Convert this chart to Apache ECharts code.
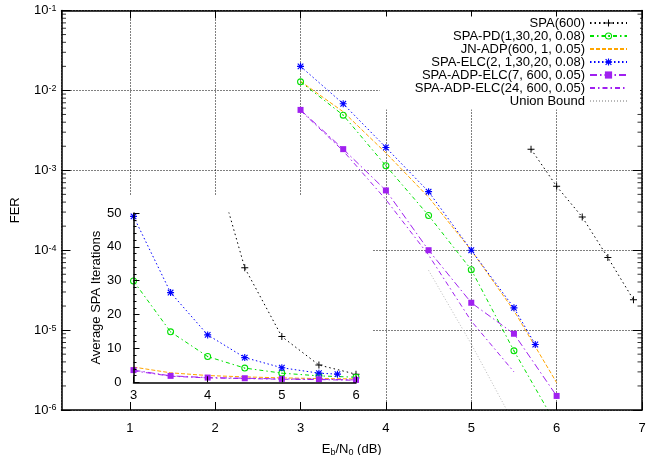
<!DOCTYPE html>
<html lang="en">
<head>
<meta charset="UTF-8">
<title>FER vs Eb/N0</title>
<style>
  html, body { margin: 0; padding: 0; background: #fff; }
  #chart { width: 649px; height: 455px; }
</style>
</head>
<body>
<div id="chart"></div>
<script src="https://cdn.jsdelivr.net/npm/echarts@6/dist/echarts.min.js"></script>
<script>
// ---- FER (main plot) ----
var spaX = [5.7, 6.0, 6.3, 6.6, 6.9];
var spaFer = [1.84e-3, 6.3e-4, 2.6e-4, 8.1e-5, 2.4e-5];
var pdX = [3, 3.5, 4, 4.5, 5, 5.5, 6];
var pdFer = [1.28e-2, 4.9e-3, 1.14e-3, 2.72e-4, 5.7e-5, 5.5e-6, 6.4e-7];
var jnX = [3, 3.5, 4, 4.5, 5, 5.5, 6];
var jnFer = [1.3e-2, 5.4e-3, 1.65e-3, 4.6e-4, 1.0e-4, 1.75e-5, 2.2e-6];
var elcX = [3, 3.5, 4, 4.5, 5, 5.5, 5.75];
var elcFer = [2.0e-2, 6.8e-3, 1.93e-3, 5.4e-4, 1.0e-4, 1.9e-5, 6.6e-6];
var adp7X = [3, 3.5, 4, 4.5, 5, 5.5, 6];
var adp7Fer = [5.7e-3, 1.84e-3, 5.6e-4, 1.0e-4, 2.2e-5, 9.0e-6, 1.5e-6];
var adp24X = [3, 3.5, 4, 4.5, 5, 5.5];
var adp24Fer = [5.6e-3, 1.75e-3, 4.3e-4, 8.7e-5, 1.3e-5, 3.0e-6];
var unionX = [4.5, 5, 5.5];
var unionFer = [5.6e-5, 6.7e-6, 6.8e-7];

// ---- average SPA iterations (inset) ----
var spaItX = [4, 4.5, 5, 5.5, 6];
var spaIt = [72, 33.8, 13.5, 5.1, 2.4];
var itX = [3, 3.5, 4, 4.5, 5, 5.5, 6];
var pdIt = [29.9, 14.9, 7.6, 4.2, 2.7, 1.9, 1.5];
var jnIt = [4.5, 2.8, 2.0, 1.6, 1.3, 1.1, 1.0];
var elcItX = [3, 3.5, 4, 4.5, 5, 5.5, 5.75];
var elcIt = [49, 26.5, 14.0, 7.3, 4.3, 2.7, 2.4];
var adp7It = [3.6, 1.9, 1.4, 1.2, 1.0, 0.9, 0.7];
var adp24It = [3.4, 1.8, 1.3, 1.1, 0.9, 0.8, 0.6];

// log-axis minor ticks (2..9 in each decade)
var minorMantissa = [2, 3, 4, 5, 6, 7, 8, 9];
var decades = [1e-6, 1e-5, 1e-4, 1e-3, 1e-2];
var minorTicks = [];
decades.forEach(function (d) {
  minorMantissa.forEach(function (m) { minorTicks.push(m * d); });
});

var names = ['SPA(600)', 'SPA-PD(1,30,20, 0.08)', 'JN-ADP(600, 1, 0.05)',
  'SPA-ELC(2, 1,30,20, 0.08)', 'SPA-ADP-ELC(7, 600, 0.05)',
  'SPA-ADP-ELC(24, 600, 0.05)', 'Union Bound'];

var plus = 'path://M4.3 0H5.7V4.3H10V5.7H5.7V10H4.3V5.7H0V4.3H4.3Z';
var star = 'path://M4.2 0H5.8V10H4.2Z M0 4.2H10V5.8H0Z M0.43 1.57L1.57 0.43L9.57 8.43L8.43 9.57Z M8.43 0.43L9.57 1.57L1.57 9.57L0.43 8.43Z';
var dotCircle = 'path://M0 5A5 5 0 1 1 10 5A5 5 0 1 1 0 5Z M1.5 5A3.5 3.5 0 1 0 8.5 5A3.5 3.5 0 1 0 1.5 5Z M4 5A1 1 0 1 1 6 5A1 1 0 1 1 4 5Z';

var styles = [
  { color: '#000000', dash: [1.5, 3], symbol: plus, size: 7 },
  { color: '#00e000', dash: [4, 3, 1.5, 3], symbol: dotCircle, size: 7 },
  { color: '#ffa500', dash: [4, 2], symbol: 'none', size: 0 },
  { color: '#0000ff', dash: [1.5, 2.5], symbol: star, size: 7 },
  { color: '#a020f0', dash: [7, 3, 1.5, 3], symbol: 'rect', size: 6 },
  { color: '#a020f0', dash: [5, 3, 1.5, 3], symbol: 'none', size: 0 },
  { color: '#b8b8b8', dash: [1, 2], symbol: 'none', size: 0 }
];

function pairs(xs, ys) {
  return xs.map(function (x, i) { return [x, ys[i]]; });
}

function makeSeries(idx, data, inset) {
  var s = styles[idx];
  var noMark = s.symbol === 'none';
  return {
    name: names[idx],
    type: 'line',
    xAxisIndex: inset ? 2 : 0,
    yAxisIndex: inset ? 2 : 0,
    data: data,
    symbol: noMark ? 'circle' : s.symbol,
    symbolSize: s.size,
    showSymbol: !noMark,
    clip: true,
    z: 2,
    lineStyle: { color: s.color, width: 1, type: s.dash },
    itemStyle: { color: noMark ? 'rgba(0,0,0,0)' : s.color },
    emphasis: { disabled: true }
  };
}

function minorTickSeries(xEdge, offset) {
  return {
    type: 'scatter',
    xAxisIndex: 0,
    yAxisIndex: 0,
    z: 3,
    silent: true,
    clip: false,
    symbol: 'rect',
    symbolSize: [4.5, 1],
    symbolOffset: [offset, 0],
    itemStyle: { color: '#000' },
    data: minorTicks.map(function (v) { return [xEdge, v]; })
  };
}

var font = 'Liberation Sans, Arial, Helvetica, sans-serif';
var axisLine = { show: true, lineStyle: { color: '#000', width: 1.5 } };

var legendData = names.map(function (n, i) {
  if (styles[i].symbol === 'none') {
    return { name: n, itemStyle: { opacity: 0 } };
  }
  return { name: n };
});

var option = {
  animation: false,
  backgroundColor: '#fff',
  textStyle: { fontFamily: font, color: '#000' },
  grid: [
    { left: 61.5, right: 7, top: 10.5, bottom: 45, outerBoundsMode: 'none', containLabel: false },
    { left: 133.5, right: 293, top: 213, bottom: 72.7, outerBoundsMode: 'none', containLabel: false }
  ],
  legend: {
    orient: 'vertical',
    align: 'right',
    right: 9,
    top: 16.5,
    padding: [0, 12, 2, 35],
    backgroundColor: '#fff',
    itemWidth: 37,
    itemHeight: 9,
    itemGap: 0,
    data: legendData,
    selectedMode: false,
    textStyle: { fontSize: 13, lineHeight: 13, color: '#000', fontFamily: font }
  },
  graphic: [{
    type: 'rect', silent: true, z: 1,
    shape: { x: 62, y: 195, width: 310, height: 214 },
    style: { fill: '#fff' }
  }],
  xAxis: [
    {
      gridIndex: 0, type: 'value', min: 0.2, max: 7, splitNumber: 7,
      minInterval: 1, maxInterval: 1, z: 3,
      axisLine: axisLine,
      axisTick: { inside: true, length: 8, lineStyle: { color: '#000' } },
      axisLabel: { showMinLabel: false, fontSize: 13, margin: 12, color: '#000' },
      splitLine: { show: false },
      name: 'E{sub|b}/N{sub|0} (dB)', nameLocation: 'middle', nameGap: 31,
      nameTextStyle: {
        fontSize: 13, color: '#000', lineHeight: 16,
        rich: { sub: { fontSize: 9, verticalAlign: 'bottom', lineHeight: 9 } }
      }
    },
    {
      gridIndex: 0, type: 'value', position: 'top', min: 0.2, max: 7, splitNumber: 7,
      minInterval: 1, maxInterval: 1, z: 3,
      axisLine: axisLine,
      axisTick: { inside: true, length: 8, lineStyle: { color: '#000' } },
      axisLabel: { show: false },
      splitLine: { show: false }
    },
    {
      gridIndex: 1, type: 'value', min: 3, max: 6, interval: 1, z: 3,
      axisLine: axisLine,
      axisTick: { inside: true, length: 6, lineStyle: { color: '#000' } },
      axisLabel: { fontSize: 13, margin: 7, color: '#000' },
      splitLine: { show: false }
    },
    {
      gridIndex: 0, type: 'value', min: 0.2, max: 7, splitNumber: 7,
      minInterval: 1, maxInterval: 1, z: 0,
      axisLine: { show: false }, axisTick: { show: false }, axisLabel: { show: false },
      splitLine: { show: true, lineStyle: { color: '#000', width: 1, type: [1, 2] } }
    }
  ],
  yAxis: [
    {
      gridIndex: 0, type: 'log', logBase: 10, min: 1e-6, max: 1e-1, splitNumber: 5, z: 3,
      axisLine: axisLine,
      axisTick: { inside: true, length: 9, lineStyle: { color: '#000' } },
      axisLabel: {
        fontSize: 13, margin: 5, color: '#000',
        formatter: function (v) {
          return '10{sup|' + Math.round(Math.log10(v)) + '}';
        },
        rich: { sup: { fontSize: 9, verticalAlign: 'top', lineHeight: 9 } }
      },
      splitLine: { show: false },
      name: 'FER', nameLocation: 'middle', nameGap: 40,
      nameTextStyle: { fontSize: 13, color: '#000' }
    },
    {
      gridIndex: 0, type: 'log', logBase: 10, min: 1e-6, max: 1e-1, splitNumber: 5,
      position: 'right', z: 3,
      axisLine: axisLine,
      axisTick: { inside: true, length: 9, lineStyle: { color: '#000' } },
      axisLabel: { show: false },
      splitLine: { show: false }
    },
    {
      gridIndex: 1, type: 'value', min: 0, max: 50, interval: 10, z: 3,
      axisLine: axisLine,
      axisTick: { inside: true, length: 6, lineStyle: { color: '#000' } },
      minorTick: { show: true, splitNumber: 5, length: 3, lineStyle: { color: '#000' } },
      axisLabel: { fontSize: 13, margin: 12, color: '#000' },
      splitLine: { show: false },
      name: 'Average SPA Iterations', nameLocation: 'middle', nameGap: 30,
      nameTextStyle: { fontSize: 13, color: '#000' }
    },
    {
      gridIndex: 0, type: 'log', logBase: 10, min: 1e-6, max: 1e-1, splitNumber: 5, z: 0,
      axisLine: { show: false }, axisTick: { show: false }, axisLabel: { show: false },
      splitLine: { show: true, lineStyle: { color: '#000', width: 1, type: [1, 2] } }
    }
  ],
  series: [
    makeSeries(0, pairs(spaX, spaFer), false),
    makeSeries(1, pairs(pdX, pdFer), false),
    makeSeries(2, pairs(jnX, jnFer), false),
    makeSeries(3, pairs(elcX, elcFer), false),
    makeSeries(4, pairs(adp7X, adp7Fer), false),
    makeSeries(5, pairs(adp24X, adp24Fer), false),
    makeSeries(6, pairs(unionX, unionFer), false),
    makeSeries(0, pairs(spaItX, spaIt), true),
    makeSeries(1, pairs(itX, pdIt), true),
    makeSeries(2, pairs(itX, jnIt), true),
    makeSeries(3, pairs(elcItX, elcIt), true),
    makeSeries(4, pairs(itX, adp7It), true),
    makeSeries(5, pairs(itX, adp24It), true),
    minorTickSeries(0.2, 2.25),
    minorTickSeries(7, -2.25)
  ]
};

var chart = echarts.init(document.getElementById('chart'));
chart.setOption(option);
</script>
</body>
</html>
